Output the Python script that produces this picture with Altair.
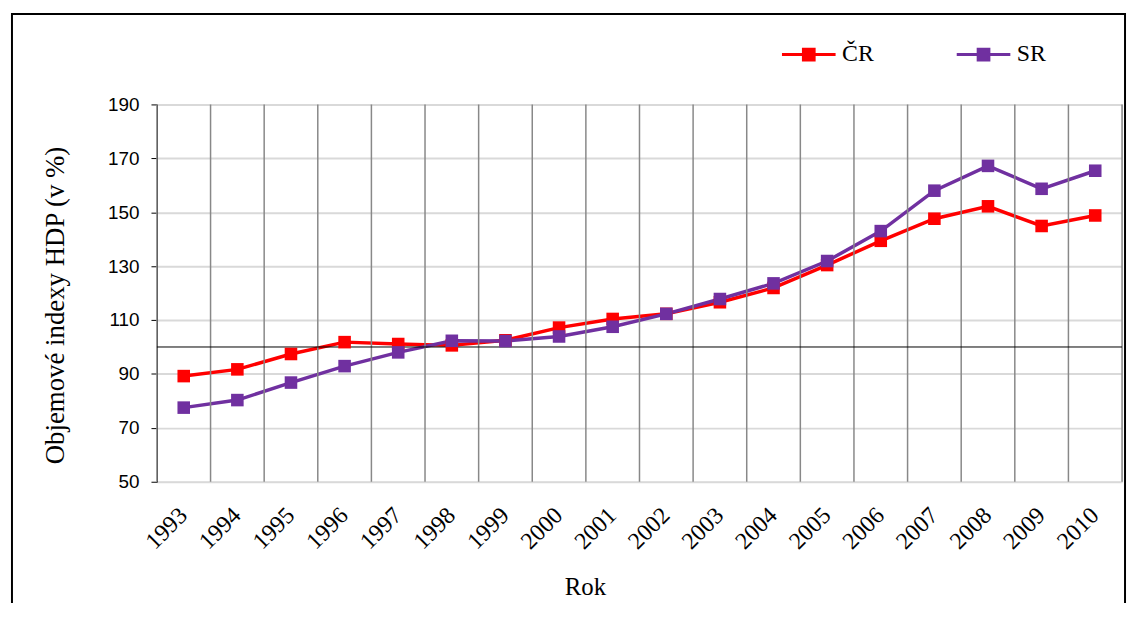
import altair as alt
import pandas as pd

years = ["1993", "1994", "1995", "1996", "1997", "1998", "1999", "2000", "2001",
         "2002", "2003", "2004", "2005", "2006", "2007", "2008", "2009", "2010"]
cr = [89.2, 91.7, 97.4, 101.8, 101.1, 100.6, 102.5, 107.2, 110.4,
      112.3, 116.6, 121.9, 130.4, 139.4, 147.6, 152.2, 144.9, 148.8]
sr = [77.5, 80.3, 86.8, 92.9, 98.0, 102.3, 102.2, 103.9, 107.5,
      112.3, 117.8, 123.6, 131.9, 143.0, 158.0, 167.2, 158.7, 165.4]
series_names = ["ČR", "SR"]
series_colors = ["#FF0000", "#7030A0"]
y_ticks = [50, 70, 90, 110, 130, 150, 170, 190]
baseline_value = [100]

rows = []
for name, vals in zip(series_names, [cr, sr]):
    for yr, v in zip(years, vals):
        rows.append({"rok": yr, "hodnota": v, "stat": name})
df = pd.DataFrame(rows)

SERIF = "Liberation Serif"
SANS = "Liberation Sans"

xscale = alt.Scale(type="band", domain=years, paddingInner=0, paddingOuter=0)
yscale = alt.Scale(domain=[50, 190], nice=False, zero=False)
cscale = alt.Scale(domain=series_names, range=series_colors)

legend_symbol = "M-1,0L1,0M-0.2,-0.2L0.2,-0.2L0.2,0.2L-0.2,0.2Z"

legend = alt.Legend(
    title=None, orient="none", legendX=628, legendY=-79, direction="horizontal",
    symbolType=legend_symbol, symbolSize=2916, symbolStrokeWidth=3,
    labelFont=SERIF, labelFontSize=24, labelColor="black", labelOffset=5,
    columnPadding=76, padding=0,
)

x_axis = alt.Axis(
    title="Rok", titleFont=SERIF, titleFontSize=25, titleFontWeight="normal",
    titleColor="black", titleX=431, titleY=106, titleAlign="center",
    titleBaseline="middle",
    labelFont=SERIF, labelFontSize=24, labelColor="black", labelAngle=-45,
    labelAlign="right", labelBaseline="middle", labelPadding=30,
    ticks=False, domain=False, grid=False,
)
y_axis = alt.Axis(
    values=y_ticks, title="Objemové indexy HDP (v %)", titleFont=SERIF,
    titleFontSize=27, titleFontWeight="normal", titleColor="black",
    titleX=-102, titleY=202, titleAlign="center", titleBaseline="middle",
    titleAngle=-90,
    labelFont=SANS, labelFontSize=19, labelColor="black", labelPadding=12,
    tickSize=6, tickColor="black", domainColor="black", domainWidth=1,
    grid=True, gridColor="#d9d9d9", gridWidth=2,
)

base = alt.Chart(df)

year_df = pd.DataFrame({"rok": years})
vgrid = alt.Chart(year_df).mark_rule(color="#888888", strokeWidth=1.5).encode(
    x=alt.X("rok:O", scale=xscale, bandPosition=0, axis=x_axis)
)
right_edge = alt.Chart(pd.DataFrame({"rok": [years[-1]]})).mark_rule(
    color="#888888", strokeWidth=1.5
).encode(x=alt.X("rok:O", scale=xscale, bandPosition=1, axis=x_axis))

base_line = alt.Chart(pd.DataFrame({"hodnota": baseline_value})).mark_rule(
    color="black", strokeWidth=1
).encode(y=alt.Y("hodnota:Q", scale=yscale, axis=y_axis))

lines = base.mark_line(strokeWidth=3.5).encode(
    x=alt.X("rok:O", scale=xscale, axis=x_axis),
    y=alt.Y("hodnota:Q", scale=yscale, axis=y_axis),
    color=alt.Color("stat:N", scale=cscale, legend=legend),
)
points = base.mark_point(shape="square", filled=True, size=160, opacity=1).encode(
    x=alt.X("rok:O", scale=xscale, axis=x_axis),
    y=alt.Y("hodnota:Q", scale=yscale, axis=y_axis),
    color=alt.Color("stat:N", scale=cscale, legend=legend),
)

frame = alt.Chart(pd.DataFrame({"v": [0]})).mark_rect(
    filled=False, stroke="black", strokeWidth=2
).encode(
    x=alt.value(-146), x2=alt.value(975), y=alt.value(-91), y2=alt.value(540)
)

chart = alt.layer(lines, vgrid, right_edge, base_line, points, frame).properties(
    width=972, height=380,
    autosize=alt.AutoSizeParams(type="none"),
    padding={"left": 150, "top": 95, "right": 6, "bottom": 120},
).configure_view(stroke=None).configure(background="white")

chart.save("out.html", embed_options={"renderer": "svg", "actions": False})
